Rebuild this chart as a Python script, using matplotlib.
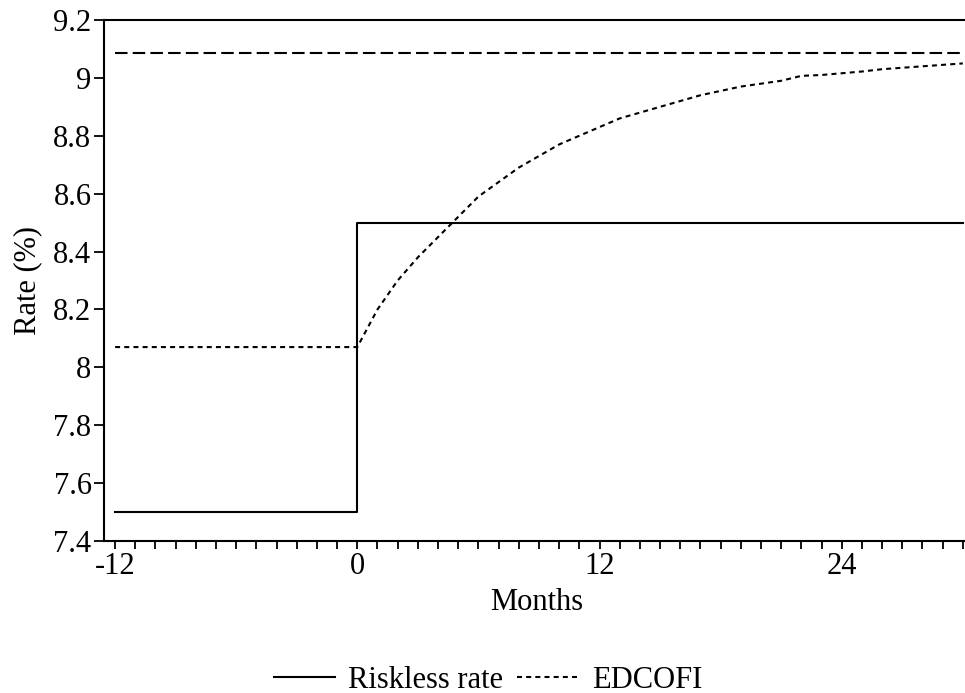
import numpy as np
import matplotlib
matplotlib.use('Agg')
from matplotlib import pyplot as plt
from matplotlib.ticker import MultipleLocator

plt.rcParams['font.family'] = 'Liberation Serif'
plt.rcParams['axes.unicode_minus'] = False

# riskless rate: step up at month 0
riskless_months = [-12, 0, 30]
riskless_rate = [7.5, 8.5, 8.5]

# EDCOFI: flat before the change, then monthly adjustment
edcofi_months = [-12] + list(range(0, 31))
edcofi_rate = [8.07,
               8.07, 8.20, 8.30, 8.38, 8.45, 8.52, 8.59, 8.64, 8.69, 8.73,
               8.77, 8.80, 8.83, 8.86, 8.88, 8.90, 8.92, 8.94, 8.955, 8.97,
               8.98, 8.99, 9.007, 9.01, 9.016, 9.022, 9.03, 9.035, 9.04, 9.045,
               9.05]

# long-run EDCOFI level
longrun_months = [-12, 30]
longrun_rate = [9.085, 9.085]

fig = plt.figure(figsize=(9.65, 6.93), dpi=100)
ax = fig.add_axes([104 / 965, 1 - 541 / 693, 1 - 104 / 965 + 0.004, (541 - 20) / 693])

ax.plot(riskless_months, riskless_rate, color='black', lw=1.5, drawstyle='steps-post',
        label='Riskless rate')
ax.plot(edcofi_months, edcofi_rate, color='black', lw=1.5, dashes=(2.4, 2.0),
        label='EDCOFI')
ax.plot(longrun_months, longrun_rate, color='black', lw=1.5, dashes=(6, 2.5))

ax.set_xlim(-12.55, 30.3)
ax.set_ylim(7.4, 9.2)
ax.xaxis.set_major_locator(MultipleLocator(12))
ax.xaxis.set_minor_locator(MultipleLocator(1))
ax.yaxis.set_major_locator(MultipleLocator(0.2))
ax.set_yticklabels([f'{v:g}' for v in np.round(ax.get_yticks(), 1)])

ax.tick_params(axis='both', which='both', direction='out', width=1.3, labelsize=22,
               color='black')
ax.tick_params(axis='x', which='both', length=6, pad=2)
ax.tick_params(axis='y', which='major', length=7, pad=2)

for side in ['left', 'bottom', 'top']:
    ax.spines[side].set_linewidth(1.5)
ax.spines['right'].set_visible(False)

ax.set_xlabel('Months', fontsize=22, labelpad=5)
ax.set_ylabel('Rate (%)', fontsize=22, labelpad=8)

fig.legend(loc='center', bbox_to_anchor=(488 / 965, 1 - 680 / 693), ncol=2,
           frameon=False, fontsize=22, handlelength=2.0, handletextpad=0.45,
           columnspacing=0.45, borderpad=0)

plt.savefig('out.png', dpi=100)
